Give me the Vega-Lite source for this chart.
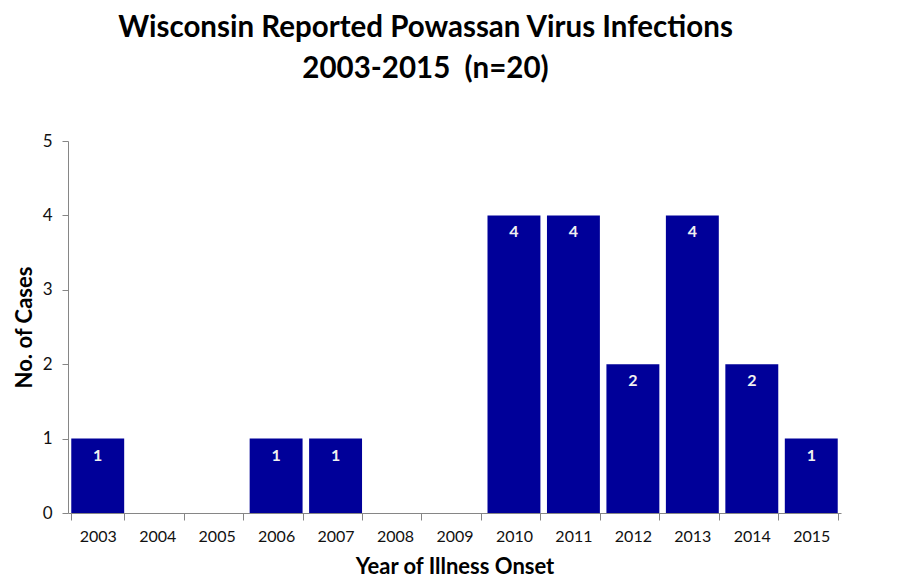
{
  "$schema": "https://vega.github.io/schema/vega-lite/v6.json",
  "autosize": "none",
  "width": 773,
  "height": 372,
  "padding": {"left": 68, "top": 141, "right": 59, "bottom": 67},
  "background": "white",
  "title": {
    "text": ["Wisconsin Reported Powassan Virus Infections", "2003-2015\u00a0\u00a0(n=20)"],
    "font": "Lato",
    "fontSize": 29.5,
    "fontWeight": "bold",
    "color": "#000000",
    "anchor": "middle",
    "dx": -29,
    "offset": 48,
    "lineHeight": 41
  },
  "data": {
    "values": [
      {"year": "2003", "cases": 1},
      {"year": "2004", "cases": 0},
      {"year": "2005", "cases": 0},
      {"year": "2006", "cases": 1},
      {"year": "2007", "cases": 1},
      {"year": "2008", "cases": 0},
      {"year": "2009", "cases": 0},
      {"year": "2010", "cases": 4},
      {"year": "2011", "cases": 4},
      {"year": "2012", "cases": 2},
      {"year": "2013", "cases": 4},
      {"year": "2014", "cases": 2},
      {"year": "2015", "cases": 1}
    ]
  },
  "encoding": {
    "x": {
      "field": "year",
      "type": "ordinal",
      "scale": {"paddingInner": 0.11, "paddingOuter": 0.055},
      "axis": {
        "title": "Year of Illness Onset",
        "titleFont": "Lato",
        "titleFontSize": 22,
        "titleFontWeight": "bold",
        "titleColor": "#000000",
        "titlePadding": 12,
        "labelFont": "Lato",
        "labelFontSize": 16,
        "labelColor": "#111111",
        "labelAngle": 0,
        "labelPadding": 8,
        "tickBand": "extent",
        "tickSize": 7,
        "tickColor": "#868686",
        "domainColor": "#868686",
        "grid": false
      }
    },
    "y": {
      "field": "cases",
      "type": "quantitative",
      "scale": {"domain": [0, 5]},
      "axis": {
        "title": "No. of Cases",
        "titleFont": "Lato",
        "titleFontSize": 22,
        "titleFontWeight": "bold",
        "titleColor": "#000000",
        "titlePadding": 6,
        "labelFont": "Lato",
        "labelFontSize": 17,
        "labelColor": "#111111",
        "labelPadding": 10,
        "values": [0, 1, 2, 3, 4, 5],
        "format": "d",
        "tickSize": 6,
        "tickColor": "#868686",
        "domainColor": "#868686",
        "grid": false
      }
    }
  },
  "layer": [
    {"mark": {"type": "bar", "color": "#000099"}},
    {
      "transform": [{"filter": "datum.cases > 0"}],
      "mark": {
        "type": "text",
        "baseline": "middle",
        "dy": 17,
        "font": "Lato",
        "fontSize": 16,
        "fontWeight": "bold",
        "color": "#f0f0f0"
      },
      "encoding": {"text": {"field": "cases", "type": "quantitative"}}
    }
  ],
  "config": {"view": {"stroke": null}}
}
